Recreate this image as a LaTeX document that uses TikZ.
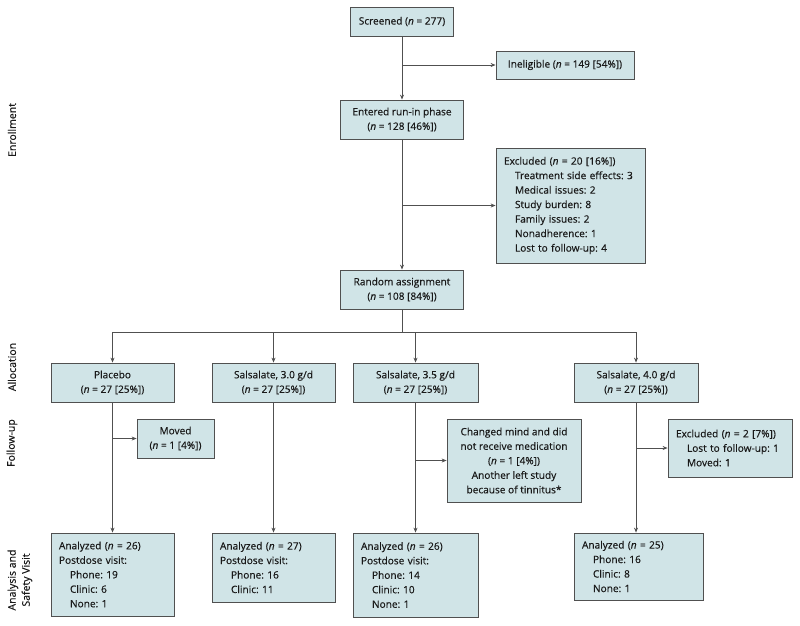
\documentclass[tikz,border=0pt]{standalone}
\usepackage{fontspec}
\setmainfont{Open Sans}[UprightFeatures={FakeBold=0.4},ItalicFeatures={FakeBold=0.4}]
\usetikzlibrary{arrows.meta}
\definecolor{boxfill}{HTML}{D0E4E7}
\definecolor{boxline}{HTML}{505050}
\tikzset{
  x=1pt,y=-1pt,
  every node/.style={font=\fontsize{10.1}{14.5}\selectfont,text=black!90},
  box/.style={draw=boxline,fill=boxfill,line width=0.8pt,inner sep=0pt,align=center},
  lbox/.style={box,align=left,inner xsep=8pt},
  conn/.style={draw=boxline,line width=0.8pt},
  arr/.style={conn,-{Stealth[length=5pt,width=4pt]}},
  side/.style={rotate=90,align=center,font=\fontsize{10.5}{14}\selectfont},
}
\newcommand{\ind}{\hspace*{11pt}}
\frenchspacing
\begin{document}
\begin{tikzpicture}
\useasboundingbox (0,0) rectangle (800,625);
% side labels
\node[side] (lenr) at (12,130) {Enrollment};
\node[side] (lall) at (12,367) {Allocation};
\node[side] (lfol) at (12,443) {Follow-up};
\node[side] (lana) at (20,580) {Analysis and\\Safety Visit};
% boxes
\node[box,minimum width=103pt,minimum height=29pt] (scr) at (402,21.5) {Screened (\textit{n} = 277)};
\node[box,minimum width=138pt,minimum height=28pt] (inel) at (565,65) {Ineligible (\textit{n} = 149 [54\%])};
\node[box,minimum width=123pt,minimum height=39pt] (ent) at (402,119.5) {Entered run-in phase\\(\textit{n} = 128 [46\%])};
\node[lbox,text width=133pt,minimum height=115pt] (exc) at (570.5,205.5) {Excluded (\textit{n} = 20 [16\%])\\
\ind Treatment side effects: 3\\
\ind Medical issues: 2\\
\ind Study burden: 8\\
\ind Family issues: 2\\
\ind Nonadherence: 1\\
\ind Lost to follow-up: 4};
\node[box,minimum width=123pt,minimum height=39pt] (rnd) at (402,289.5) {Random assignment\\(\textit{n} = 108 [84\%])};
\coordinate (bar) at (402,332);
\node[box,minimum width=123pt,minimum height=39pt] (pla) at (112.5,382.5) {Placebo\\(\textit{n} = 27 [25\%])};
\node[box,minimum width=123pt,minimum height=39pt] (s30) at (273.5,382.5) {Salsalate, 3.0 g/d\\(\textit{n} = 27 [25\%])};
\node[box,minimum width=125pt,minimum height=39pt] (s35) at (415.5,382.5) {Salsalate, 3.5 g/d\\(\textit{n} = 27 [25\%])};
\node[box,minimum width=124pt,minimum height=39pt] (s40) at (636,382.5) {Salsalate, 4.0 g/d\\(\textit{n} = 27 [25\%])};
\node[box,minimum width=77pt,minimum height=39pt] (mov) at (175.5,438.5) {Moved\\(\textit{n} = 1 [4\%])};
\node[box,minimum width=134pt,minimum height=83pt] (chg) at (514,460.5) {Changed mind and did\\not receive medication\\(\textit{n} = 1 [4\%])\\Another left study\\because of tinnitus*};
\node[lbox,text width=108pt,minimum height=58pt] (ex2) at (730,448) {Excluded (\textit{n} = 2 [7\%])\\
\ind Lost to follow-up: 1\\
\ind Moved: 1};
\node[lbox,text width=107pt,minimum height=83pt] (a1) at (112.5,574.5) {Analyzed (\textit{n} = 26)\\Postdose visit:\\
\ind Phone: 19\\\ind Clinic: 6\\\ind None: 1};
\node[lbox,text width=107pt,minimum height=69pt] (a2) at (273.5,567.5) {Analyzed (\textit{n} = 27)\\Postdose visit:\\
\ind Phone: 16\\\ind Clinic: 11};
\node[lbox,text width=109pt,minimum height=84pt] (a3) at (415.5,575) {Analyzed (\textit{n} = 26)\\Postdose visit:\\
\ind Phone: 14\\\ind Clinic: 10\\\ind None: 1};
\node[lbox,text width=113pt,minimum height=67pt] (a4) at (638.5,566.5) {Analyzed (\textit{n} = 25)\\
\ind Phone: 16\\\ind Clinic: 8\\\ind None: 1};
% connectors
\draw[arr] (scr.south) -- (ent.north);
\draw[arr] (scr.south |- inel.west) -- (inel.west);
\draw[arr] (ent.south) -- (rnd.north);
\draw[arr] (ent.south |- exc.west) -- (exc.west);
\draw[conn] (rnd.south) -- (bar);
\draw[conn] (pla.north |- bar) -- (s40.north |- bar);
\draw[arr] (pla.north |- bar) -- (pla.north);
\draw[arr] (s30.north |- bar) -- (s30.north);
\draw[arr] (s35.north |- bar) -- (s35.north);
\draw[arr] (s40.north |- bar) -- (s40.north);
\draw[arr] (pla.south) -- (a1.north);
\draw[arr] (pla.south |- mov.west) -- (mov.west);
\draw[arr] (s30.south) -- (a2.north);
\draw[arr] (s35.south) -- (s35.south |- a3.north);
\draw[arr] (s35.south |- chg.west) -- (chg.west);
\draw[arr] (s40.south) -- (s40.south |- a4.north);
\draw[arr] (s40.south |- ex2.west) -- (ex2.west);
\end{tikzpicture}
\end{document}
